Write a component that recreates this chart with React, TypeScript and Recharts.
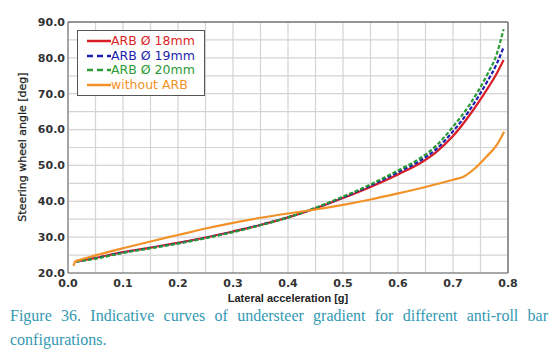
import { CartesianGrid, Line, LineChart, ReferenceLine, XAxis, YAxis } from "recharts";

const arbX = [0.015, 0.05, 0.1, 0.15, 0.2, 0.25, 0.3, 0.35, 0.4, 0.45, 0.5, 0.55, 0.6, 0.64, 0.67, 0.7, 0.73, 0.76, 0.78, 0.792];
const arb18 = [23.2, 24.2, 25.8, 27.1, 28.4, 29.9, 31.6, 33.4, 35.5, 38.0, 40.9, 44.0, 47.5, 50.6, 53.8, 58.2, 64.0, 70.8, 75.8, 79.4];
const arb19 = [23.2, 24.1, 25.7, 27.0, 28.3, 29.8, 31.5, 33.4, 35.5, 38.1, 41.1, 44.4, 48.1, 51.3, 54.6, 59.5, 65.4, 72.8, 78.5, 83.0];
const arb20 = [23.2, 24.0, 25.6, 26.9, 28.2, 29.7, 31.4, 33.3, 35.5, 38.2, 41.3, 44.7, 48.6, 52.0, 55.6, 60.8, 66.9, 74.7, 81.3, 88.0];

const noArbX = [0.01, 0.013, 0.02, 0.05, 0.1, 0.15, 0.2, 0.25, 0.3, 0.35, 0.4, 0.45, 0.5, 0.55, 0.6, 0.65, 0.7, 0.72, 0.74, 0.76, 0.78, 0.793];
const noArb = [22.0, 23.2, 23.6, 24.9, 26.9, 28.8, 30.6, 32.4, 34.0, 35.4, 36.6, 37.7, 39.0, 40.5, 42.2, 44.0, 46.0, 46.9, 49.2, 52.3, 55.8, 59.4];

const xTicks = [0, 0.05, 0.1, 0.15, 0.2, 0.25, 0.3, 0.35, 0.4, 0.45, 0.5, 0.55, 0.6, 0.65, 0.7, 0.75, 0.8];
const yTicks = [20, 25, 30, 35, 40, 45, 50, 55, 60, 65, 70, 75, 80, 85, 90];

const series = [
  { name: "ARB \u00D8 18mm", xs: arbX, ys: arb18, color: "#d91f26", dash: undefined },
  { name: "ARB \u00D8 19mm", xs: arbX, ys: arb19, color: "#1d1fae", dash: "4 2" },
  { name: "ARB \u00D8 20mm", xs: arbX, ys: arb20, color: "#2a9b35", dash: "4 2" },
  { name: "without ARB", xs: noArbX, ys: noArb, color: "#f29228", dash: undefined },
];

const toPoints = (xs: number[], ys: number[]) => xs.map((x, i) => ({ x, y: ys[i] }));

const tickStyle = { fontFamily: "DejaVu Sans", fontSize: 11, fontWeight: 700, fill: "#333" };

// legend drawn as plain html so it does not push the plot area down
function LegendBox() {
  return (
    <div
      style={{
        position: "absolute",
        left: 77,
        top: 30,
        background: "#fff",
        border: "1px solid #555",
        padding: "3px 9px 3px 9px",
        fontFamily: "DejaVu Sans",
        fontSize: 12.5,
        lineHeight: "14.5px",
      }}
    >
      {series.map((s) => (
        <div key={s.name} style={{ display: "flex", alignItems: "center", color: s.color }}>
          <svg width={24} height={6}>
            <line x1={0} y1={3} x2={24} y2={3} stroke={s.color} strokeWidth={2.5} strokeDasharray={s.dash ? "6 4" : undefined} />
          </svg>
          <span>{s.name}</span>
        </div>
      ))}
    </div>
  );
}

export default function App() {
  return (
    <div style={{ position: "absolute", left: 0, top: 0, width: 560, height: 363, background: "#fff" }}>
      <LineChart width={560} height={305} margin={{ top: 22, right: 52, bottom: 0, left: 0 }}>
        <CartesianGrid stroke="#d4d4d4" strokeWidth={1.2} />
        <XAxis
          type="number"
          dataKey="x"
          domain={[0, 0.8]}
          ticks={xTicks}
          interval={0}
          height={32}
          tickSize={0}
          tickMargin={6}
          stroke="#666"
          tick={tickStyle}
          tickFormatter={(v: number) => (Math.round(v * 100) % 10 === 0 ? v.toFixed(1) : "")}
          label={{
            content: () => (
              <text x={288} y={302} textAnchor="middle" fontFamily="Liberation Sans" fontSize={11} fontWeight={700} fill="#222">
                Lateral acceleration [g]
              </text>
            ),
          }}
        />
        <YAxis
          type="number"
          domain={[20, 90]}
          ticks={yTicks}
          interval={0}
          width={68}
          tickSize={0}
          tickMargin={3}
          stroke="#666"
          tick={tickStyle}
          tickFormatter={(v: number) => (v % 10 === 0 ? v.toFixed(1) : "")}
          label={{
            content: () => (
              <text
                x={26}
                y={147}
                transform="rotate(-90 26 147)"
                textAnchor="middle"
                fontFamily="DejaVu Sans"
                fontSize={11}
                fill="#222"
                stroke="#222"
                strokeWidth={0.25}
              >
                Steering wheel angle [deg]
              </text>
            ),
          }}
        />
        <ReferenceLine y={90} stroke="#777" strokeWidth={1.5} />
        <ReferenceLine x={0.8} stroke="#777" strokeWidth={1.5} />
        {series.map((s) => (
          <Line
            key={s.name}
            name={s.name}
            data={toPoints(s.xs, s.ys)}
            dataKey="y"
            type="monotone"
            stroke={s.color}
            strokeWidth={2.2}
            strokeDasharray={s.dash}
            dot={false}
            isAnimationActive={false}
          />
        ))}
      </LineChart>
      <LegendBox />
      <div
        style={{
          position: "absolute",
          left: 10,
          top: 304,
          width: 538,
          fontFamily: "Liberation Serif",
          fontSize: 16,
          lineHeight: "24px",
          color: "#3399b3",
          textAlign: "justify",
        }}
      >
        Figure 36. Indicative curves of understeer gradient for different anti-roll bar configurations.
      </div>
    </div>
  );
}
